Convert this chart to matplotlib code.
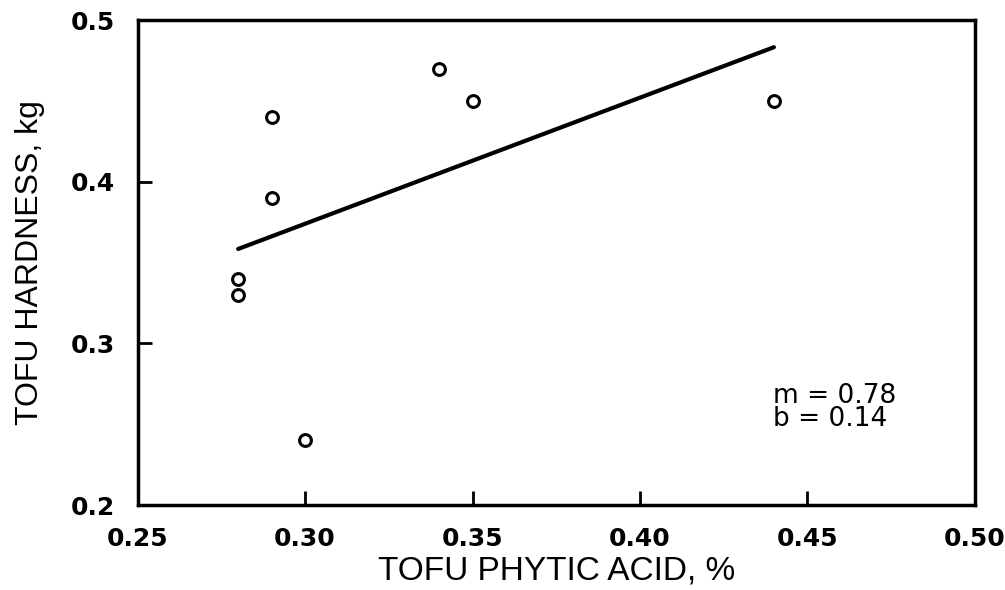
import matplotlib
matplotlib.use("Agg")
import matplotlib.pyplot as plt
import numpy as np

# data
phytic_acid = [0.28, 0.28, 0.29, 0.29, 0.30, 0.34, 0.35, 0.44]
hardness = [0.34, 0.33, 0.44, 0.39, 0.24, 0.47, 0.45, 0.45]
slope = 0.78
intercept = 0.14
fit_range = [0.28, 0.44]

x_ticks = [0.25, 0.30, 0.35, 0.40, 0.45, 0.50]
x_ticklabels = ["0.25", "0.30", "0.35", "0.40", "0.45", "0.50"]
y_ticks = [0.2, 0.3, 0.4, 0.5]
y_ticklabels = ["0.2", "0.3", "0.4", "0.5"]

fig = plt.figure(figsize=(10.05, 5.9), dpi=100)
ax = fig.add_axes([0.137, 0.144, 0.833, 0.822])

ax.plot(phytic_acid, hardness, "o", markersize=8.5, markerfacecolor="white",
        markeredgecolor="black", markeredgewidth=2.2, zorder=3)

xf = np.array(fit_range)
ax.plot(xf, slope * xf + intercept, color="black", linewidth=3, solid_capstyle="round")

ax.set_xlim(0.25, 0.50)
ax.set_ylim(0.2, 0.5)
ax.set_xticks(x_ticks)
ax.set_xticklabels(x_ticklabels)
ax.set_yticks(y_ticks)
ax.set_yticklabels(y_ticklabels)
ax.tick_params(direction="in", length=10, width=2, pad=16)
for lab in ax.get_xticklabels() + ax.get_yticklabels():
    lab.set_fontfamily("DejaVu Sans")
    lab.set_fontweight("bold")
    lab.set_fontsize(18)
for spine in ax.spines.values():
    spine.set_linewidth(2.5)

ax.set_xlabel("TOFU PHYTIC ACID, %", fontsize=24, family="Liberation Sans", labelpad=3)
ax.set_ylabel("TOFU HARDNESS, kg", fontsize=23, family="Liberation Sans", labelpad=19)

# regression parameters
ax.text(0.759, 0.252, "m = 0.78\nb = 0.14", transform=ax.transAxes,
        fontsize=19, family="DejaVu Sans", linespacing=0.85, va="top", ha="left")

fig.savefig("out.png", dpi=100, facecolor="white")
